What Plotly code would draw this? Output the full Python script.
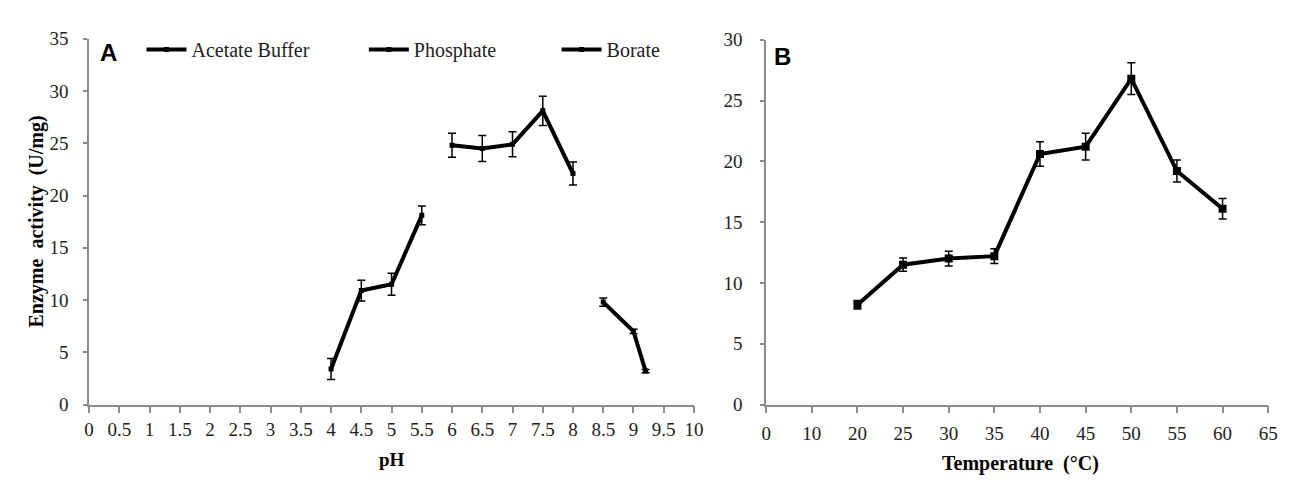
import plotly.graph_objects as go

# Panel A data (pH)
acetate_ph = [4, 4.5, 5, 5.5]
acetate_act = [3.4, 10.9, 11.5, 18.1]
acetate_err = [1.0, 1.0, 1.05, 0.9]

phosphate_ph = [6, 6.5, 7, 7.5, 8]
phosphate_act = [24.8, 24.5, 24.9, 28.1, 22.1]
phosphate_err = [1.15, 1.25, 1.2, 1.4, 1.1]

borate_ph = [8.5, 9, 9.2]
borate_act = [9.8, 7.0, 3.2]
borate_err = [0.4, 0.2, 0.15]

# Panel B data (temperature)
temp_labels = ["0", "10", "20", "25", "30", "35", "40", "45", "50", "55", "60", "65"]
temp_x = ["20", "25", "30", "35", "40", "45", "50", "55", "60"]
temp_act = [8.2, 11.5, 12.0, 12.2, 20.6, 21.2, 26.8, 19.2, 16.1]
temp_err = [0.35, 0.55, 0.6, 0.6, 1.0, 1.1, 1.3, 0.9, 0.85]

W, H = 1289, 485
SERIF = "Liberation Serif, Times New Roman, serif"
SANS = "Liberation Sans, Arial, sans-serif"
AXC = "#8c8c8c"

fig = go.Figure()

def add_series(x, y, e, name, xa, ya, show, legend="legend", msize=5):
    fig.add_trace(go.Scatter(
        x=x, y=y, name=name, mode="lines+markers",
        line=dict(color="black", width=4),
        marker=dict(color="black", size=msize, symbol="square"),
        error_y=dict(type="data", array=e, visible=True, color="black", thickness=1.5, width=4),
        xaxis=xa, yaxis=ya, showlegend=show, legend=legend,
    ))

add_series(acetate_ph, acetate_act, acetate_err, "Acetate Buffer", "x", "y", True, "legend")
add_series(phosphate_ph, phosphate_act, phosphate_err, "Phosphate", "x", "y", True, "legend2")
add_series(borate_ph, borate_act, borate_err, "Borate", "x", "y", True, "legend3")
add_series(temp_x, temp_act, temp_err, "Temperature", "x2", "y2", False, msize=8)

def px_x(p):
    return p / W

def px_y(p):
    return 1 - p / H

tickfont = dict(family=SERIF, size=19, color="#222")
axis_common = dict(showline=True, linecolor=AXC, linewidth=1.5, ticks="outside",
                   tickcolor=AXC, tickwidth=1.5, showgrid=False, zeroline=False,
                   tickfont=tickfont)

def leg(xpx):
    return dict(orientation="h", x=px_x(xpx), y=px_y(33), xanchor="left", yanchor="middle",
                font=dict(family=SERIF, size=20, color="#222"),
                bgcolor="rgba(0,0,0,0)", itemwidth=40)

fig.update_layout(
    width=W, height=H,
    margin=dict(l=0, r=0, t=0, b=0),
    paper_bgcolor="white", plot_bgcolor="white",
    xaxis=dict(domain=[px_x(77), px_x(689)], range=[0, 10], dtick=0.5, tick0=0,
               ticklen=7, anchor="y", **axis_common),
    yaxis=dict(domain=[px_y(404), px_y(21.7)], range=[0, 35], dtick=5,
               ticklen=4, ticklabelstandoff=11, anchor="x", **axis_common),
    xaxis2=dict(domain=[px_x(762), px_x(1270)], type="category",
                categoryorder="array", categoryarray=temp_labels,
                tickvals=temp_labels, ticktext=temp_labels, range=[0, 11],
                ticklen=7, ticklabelstandoff=4, anchor="y2", **axis_common),
    yaxis2=dict(domain=[px_y(404), px_y(22.7)], range=[0, 30], dtick=5,
                ticklen=4, ticklabelstandoff=14, anchor="x2", **axis_common),
    legend=leg(130),
    legend2=leg(355),
    legend3=leg(550),
)

ann = [
    dict(text="<b>A</b>", x=px_x(97), y=px_y(36), font=dict(family=SANS, size=24, color="black")),
    dict(text="<b>B</b>", x=px_x(779), y=px_y(40), font=dict(family=SANS, size=24, color="black")),
    dict(text="<b>pH</b>", x=px_x(383), y=px_y(462), font=dict(family=SERIF, size=19, color="black")),
    dict(text="<b>Temperature  (°C)</b>", x=px_x(1019), y=px_y(466), font=dict(family=SERIF, size=20, color="black")),
    dict(text="<b>Enzyme  activity  (U/mg)</b>", x=px_x(24), y=px_y(213), textangle=-90,
         font=dict(family=SERIF, size=20, color="black")),
]
for a in ann:
    fig.add_annotation(xref="paper", yref="paper", showarrow=False,
                       xanchor="center", yanchor="middle", **a)

fig.write_html("out.html")
